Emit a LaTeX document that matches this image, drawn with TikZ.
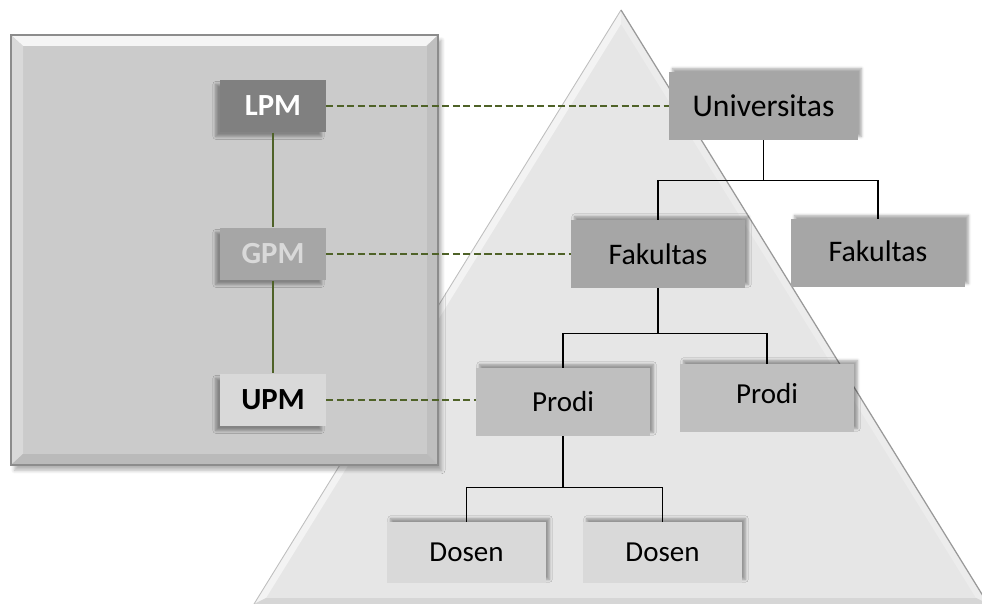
\documentclass[tikz,border=0pt]{standalone}
\usepackage{fontspec}
\setmainfont{Carlito}
\usetikzlibrary{shadows,shadows.blur}
\definecolor{olivedark}{HTML}{4F6228}
\definecolor{fillA}{HTML}{A6A6A6}
\definecolor{fillB}{HTML}{BFBFBF}
\definecolor{fillC}{HTML}{D9D9D9}
\definecolor{fillLPM}{HTML}{808080}
\definecolor{panel}{HTML}{CBCBCB}
\definecolor{pyramid}{HTML}{E6E6E6}
\tikzset{
  orgbox/.style={minimum width=3.48cm, minimum height=1.36cm, inner sep=0pt,
    font=\fontsize{16.5}{19}\selectfont,
    blur shadow={shadow xshift=2pt, shadow yshift=2pt, shadow blur radius=1.5pt, shadow blur steps=6, shadow opacity=35}},
  qbox/.style={minimum width=2.12cm, minimum height=1.05cm, inner sep=0pt,
    font=\fontsize{17.5}{21}\selectfont\bfseries,
    blur shadow={shadow xshift=-2.5pt, shadow yshift=-2.5pt, shadow blur radius=1.5pt, shadow blur steps=6, shadow opacity=35}},
  treeline/.style={line width=0.9pt},
  qlink/.style={olivedark, line width=0.8pt},
  dashlink/.style={olivedark, line width=1.4pt, dash pattern=on 4pt off 2pt},
}
\begin{document}
\begin{tikzpicture}[x=0.02cm, y=-0.02cm]
    \useasboundingbox (0,0) rectangle (982,604);
    \clip (0,0) rectangle (982,604);
    % pyramid
    \fill[pyramid] (621,10) -- (254,604) -- (988,604) -- cycle;
    \fill[white!50!pyramid] (621,10) -- (254,604) -- (266,598) -- (621,24) -- cycle;
    \fill[white!25!pyramid] (621,10) -- (988,604) -- (976,598) -- (621,24) -- cycle;
    \fill[black!16] (254,604) -- (988,604) -- (976,598) -- (266,598) -- cycle;
    \draw[black!25, line width=0.5pt] (254,604) -- (621,10);
    \draw[black!40, line width=0.7pt] (621,10) -- (988,604);
    % panel
    \fill[panel, blur shadow={shadow xshift=2pt, shadow yshift=-3pt, shadow blur radius=2pt, shadow blur steps=6, shadow opacity=30}] (11,35) rectangle (438,465);
    \fill[black!4] (11,35) -- (438,35) -- (426,46) -- (23,46) -- cycle;
    \fill[black!15] (11,35) -- (23,46) -- (23,454) -- (11,465) -- cycle;
    \fill[black!25] (438,35) -- (438,465) -- (427,454) -- (427,46) -- cycle;
    \fill[black!27] (11,465) -- (438,465) -- (427,454) -- (23,454) -- cycle;
    \draw[black!45, line width=0.6pt] (11,35) rectangle (438,465);

    \node[qbox, fill=fillLPM, text=white] (lpm) at (273,106) {LPM};
    \node[qbox, fill=fillA, text=fillC] (gpm) at (273,254) {GPM};
    \node[qbox, fill=fillC, text=black] (upm) at (273,400) {UPM};

    \node[orgbox, fill=fillA, minimum width=3.78cm, font=\fontsize{18}{21}\selectfont] (univ) at (763.5,106) {Universitas};
    \node[orgbox, fill=fillA, font=\fontsize{17}{20}\selectfont] (fak1) at (658,254) {Fakultas};
    \node[orgbox, fill=fillA, font=\fontsize{17}{20}\selectfont] (fak2) at (878,253) {\raisebox{2pt}{Fakultas}};
    \node[orgbox, fill=fillB] (prodi1) at (563,402) {Prodi};
    \node[orgbox, fill=fillB] (prodi2) at (767,398) {\raisebox{5pt}{Prodi}};
    \node[orgbox, fill=fillC, minimum width=3.18cm, minimum height=1.22cm] (dosen1) at (466.5,552.5) {Dosen};
    \node[orgbox, fill=fillC, minimum width=3.18cm, minimum height=1.22cm] (dosen2) at (662.5,552.5) {Dosen};

    % quality links
    \draw[qlink] (lpm.south) -- (gpm.north);
    \draw[qlink] (gpm.south) -- (upm.north);
    \draw[dashlink] (lpm.east) -- (lpm.east -| univ.west);
    \draw[dashlink] (gpm.east) -- (gpm.east -| fak1.west);
    \draw[dashlink] (upm.east) -- (upm.east -| prodi1.west);

    % tree
    \draw[treeline] (univ.south) -- ++(0,40) -| (fak1.north);
    \draw[treeline] (univ.south) ++(0,40) -| (fak2.north);
    \draw[treeline] (fak1.south) -- ++(0,45) -| (prodi1.north);
    \draw[treeline] (fak1.south) ++(0,45) -| (prodi2.north);
    \draw[treeline] (prodi1.south) -- ++(0,51) -| (dosen1.north);
    \draw[treeline] (prodi1.south) ++(0,51) -| (dosen2.north);
\end{tikzpicture}
\end{document}
